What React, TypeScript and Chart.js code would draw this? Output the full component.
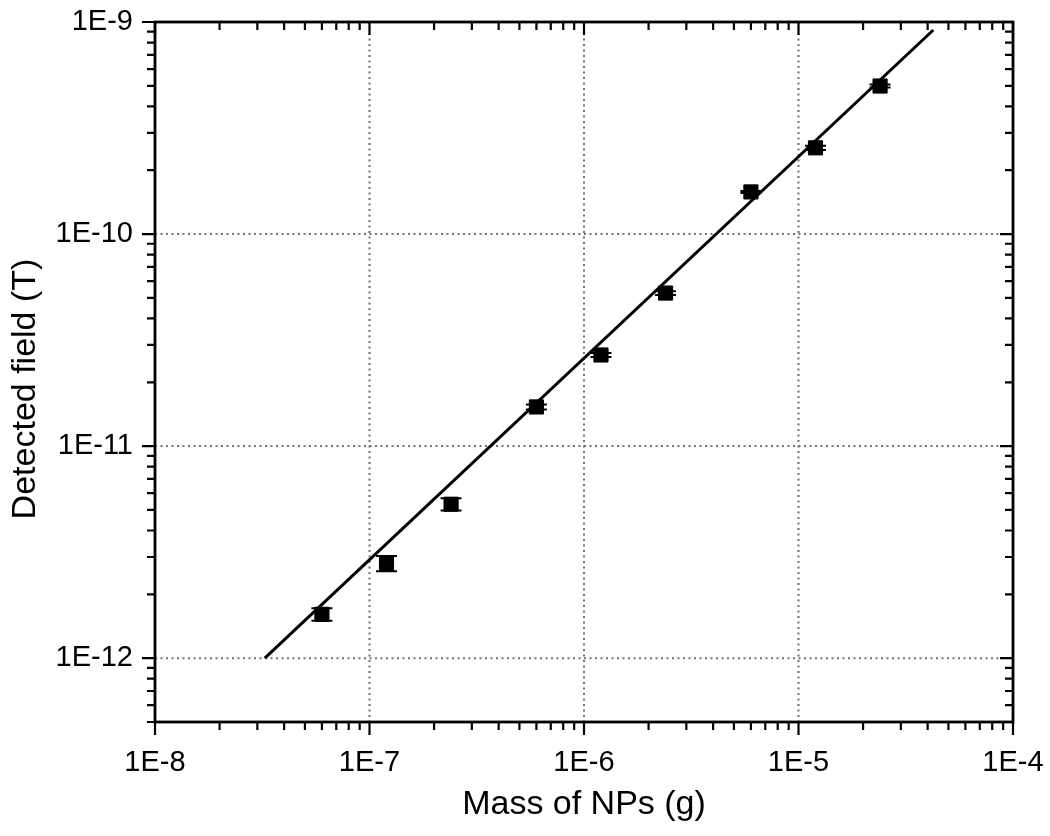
import React, { useEffect, useRef } from "react";
import { Chart, registerables } from "chart.js";

Chart.register(...registerables);

const massValues = [6e-8, 1.2e-7, 2.4e-7, 6e-7, 1.2e-6, 2.4e-6, 6e-6, 1.2e-5, 2.4e-5];
const fieldValues = [1.61e-12, 2.8e-12, 5.32e-12, 1.53e-11, 2.69e-11, 5.27e-11, 1.58e-10, 2.55e-10, 4.99e-10];
const fieldErrors = [0.11e-12, 0.23e-12, 0.35e-12, 0.042e-11, 0.06e-11, 0.11e-11, 0.017e-10, 0.056e-10, 0.08e-10];

const fitX = [3.25e-8, 4.25e-5];
const fitY = [1e-12, 9.17e-10];

const xTickValues = [1e-8, 1e-7, 1e-6, 1e-5, 1e-4];
const xTickLabels = ["1E-8", "1E-7", "1E-6", "1E-5", "1E-4"];
const yTickValues = [1e-12, 1e-11, 1e-10, 1e-9];
const yTickLabels = ["1E-12", "1E-11", "1E-10", "1E-9"];

const X_MIN = 1e-8, X_MAX = 1e-4, Y_MIN = 5e-13, Y_MAX = 1e-9;
const FONT = '"Liberation Sans", Arial, Helvetica, sans-serif';

function minorValues(min: number, max: number) {
  const out: { v: number; major: boolean }[] = [];
  const e0 = Math.floor(Math.log10(min));
  const e1 = Math.ceil(Math.log10(max));
  for (let e = e0; e <= e1; e++) {
    for (let m = 1; m <= 9; m++) {
      const v = m * Math.pow(10, e);
      if (v >= min * 0.9999 && v <= max * 1.0001) out.push({ v, major: m === 1 });
    }
  }
  return out;
}

const framePlugin = {
  id: "frameTicks",
  beforeDatasetsDraw(chart: any) {
    const { ctx, chartArea: a, scales } = chart;
    const xs = scales.x, ys = scales.y;
    ctx.save();
    ctx.strokeStyle = "#707070";
    ctx.lineWidth = 2;
    ctx.setLineDash([2, 3.5]);
    xTickValues.forEach((v) => {
      const px = xs.getPixelForValue(v);
      if (px > a.left + 2 && px < a.right - 2) {
        ctx.beginPath();
        ctx.moveTo(px, a.top);
        ctx.lineTo(px, a.bottom);
        ctx.stroke();
      }
    });
    yTickValues.forEach((v) => {
      const py = ys.getPixelForValue(v);
      if (py > a.top + 2 && py < a.bottom - 2) {
        ctx.beginPath();
        ctx.moveTo(a.left, py);
        ctx.lineTo(a.right, py);
        ctx.stroke();
      }
    });
    ctx.restore();
  },
  afterDatasetsDraw(chart: any) {
    const { ctx, chartArea: a, scales } = chart;
    const xs = scales.x, ys = scales.y;
    ctx.save();
    ctx.strokeStyle = "#000";
    ctx.lineWidth = 2;
    massValues.forEach((m, i) => {
      const px = xs.getPixelForValue(m);
      const top = ys.getPixelForValue(fieldValues[i] + fieldErrors[i]);
      const bot = ys.getPixelForValue(fieldValues[i] - fieldErrors[i]);
      ctx.beginPath();
      ctx.moveTo(px, top);
      ctx.lineTo(px, bot);
      ctx.moveTo(px - 10.5, top);
      ctx.lineTo(px + 10.5, top);
      ctx.moveTo(px - 10.5, bot);
      ctx.lineTo(px + 10.5, bot);
      ctx.stroke();
    });
    ctx.lineWidth = 2.2;
    minorValues(X_MIN, X_MAX).forEach(({ v, major }) => {
      const px = xs.getPixelForValue(v);
      const len = major ? 13 : 8;
      ctx.beginPath();
      ctx.moveTo(px, a.bottom);
      ctx.lineTo(px, a.bottom + len);
      ctx.moveTo(px, a.top);
      ctx.lineTo(px, a.top + len);
      ctx.stroke();
    });
    minorValues(Y_MIN, Y_MAX).forEach(({ v, major }) => {
      const py = ys.getPixelForValue(v);
      const len = major ? 13 : 8;
      ctx.beginPath();
      ctx.moveTo(a.left, py);
      ctx.lineTo(a.left - len, py);
      ctx.moveTo(a.right, py);
      ctx.lineTo(a.right - len, py);
      ctx.stroke();
    });
    ctx.lineWidth = 2.8;
    ctx.strokeRect(a.left, a.top, a.right - a.left, a.bottom - a.top);
    ctx.restore();
  },
  afterDraw(chart: any) {
    const { ctx } = chart;
    ctx.save();
    ctx.fillStyle = "#000";
    ctx.font = `34px ${FONT}`;
    ctx.textAlign = "center";
    ctx.textBaseline = "middle";
    ctx.translate(26, 389);
    ctx.rotate(-Math.PI / 2);
    ctx.fillText("Detected field (T)", 0, 0);
    ctx.restore();
  },
};

function zeroPad(s: any) {
  s.paddingLeft = 0;
  s.paddingRight = 0;
  s.paddingTop = 0;
  s.paddingBottom = 0;
}

export default function App() {
  const ref = useRef<HTMLCanvasElement>(null);
  useEffect(() => {
    if (!ref.current) return;
    const chart = new Chart(ref.current, {
      type: "scatter",
      data: {
        datasets: [
          {
            label: "fit",
            data: fitX.map((x, i) => ({ x, y: fitY[i] })),
            showLine: true,
            borderColor: "#000",
            borderWidth: 3,
            pointRadius: 0,
            fill: false,
          },
          {
            label: "data",
            data: massValues.map((x, i) => ({ x, y: fieldValues[i] })),
            pointStyle: "rect",
            pointRadius: 10,
            backgroundColor: "#000",
            borderColor: "#000",
            borderWidth: 1,
            showLine: false,
          },
        ],
      },
      options: {
        animation: false,
        responsive: false,
        devicePixelRatio: 1,
        layout: { padding: { top: 22, right: 37, left: 0, bottom: 0 } },
        plugins: { legend: { display: false }, tooltip: { enabled: false } },
        scales: {
          x: {
            type: "logarithmic",
            position: "bottom",
            min: X_MIN,
            max: X_MAX,
            grid: { display: false, drawTicks: false },
            border: { display: false },
            afterBuildTicks: (s: any) => {
              s.ticks = xTickValues.map((v) => ({ value: v }));
            },
            afterFit: (s: any) => {
              s.height = 114;
              zeroPad(s);
            },
            ticks: {
              autoSkip: false,
              maxRotation: 0,
              padding: 24,
              color: "#000",
              font: { family: FONT, size: 29 },
              callback: (_v: any, i: number) => xTickLabels[i],
            },
            title: {
              display: true,
              text: "Mass of NPs (g)",
              color: "#000",
              font: { family: FONT, size: 34 },
              padding: { top: 0, bottom: 11 },
            },
          },
          y: {
            type: "logarithmic",
            position: "left",
            min: Y_MIN,
            max: Y_MAX,
            grid: { display: false, drawTicks: false },
            border: { display: false },
            afterBuildTicks: (s: any) => {
              s.ticks = yTickValues.map((v) => ({ value: v }));
            },
            afterFit: (s: any) => {
              s.width = 155;
              zeroPad(s);
            },
            ticks: {
              autoSkip: false,
              padding: 22,
              color: "#000",
              font: { family: FONT, size: 29 },
              callback: (_v: any, i: number) => yTickLabels[i],
            },
          },
        },
      },
      plugins: [framePlugin],
    } as any);
    return () => chart.destroy();
  }, []);
  return (
    <div style={{ position: "absolute", left: 0, top: 0, width: 1050, height: 836, background: "#fff" }}>
      <canvas ref={ref} width={1050} height={836} style={{ width: 1050, height: 836, display: "block" }} />
    </div>
  );
}
